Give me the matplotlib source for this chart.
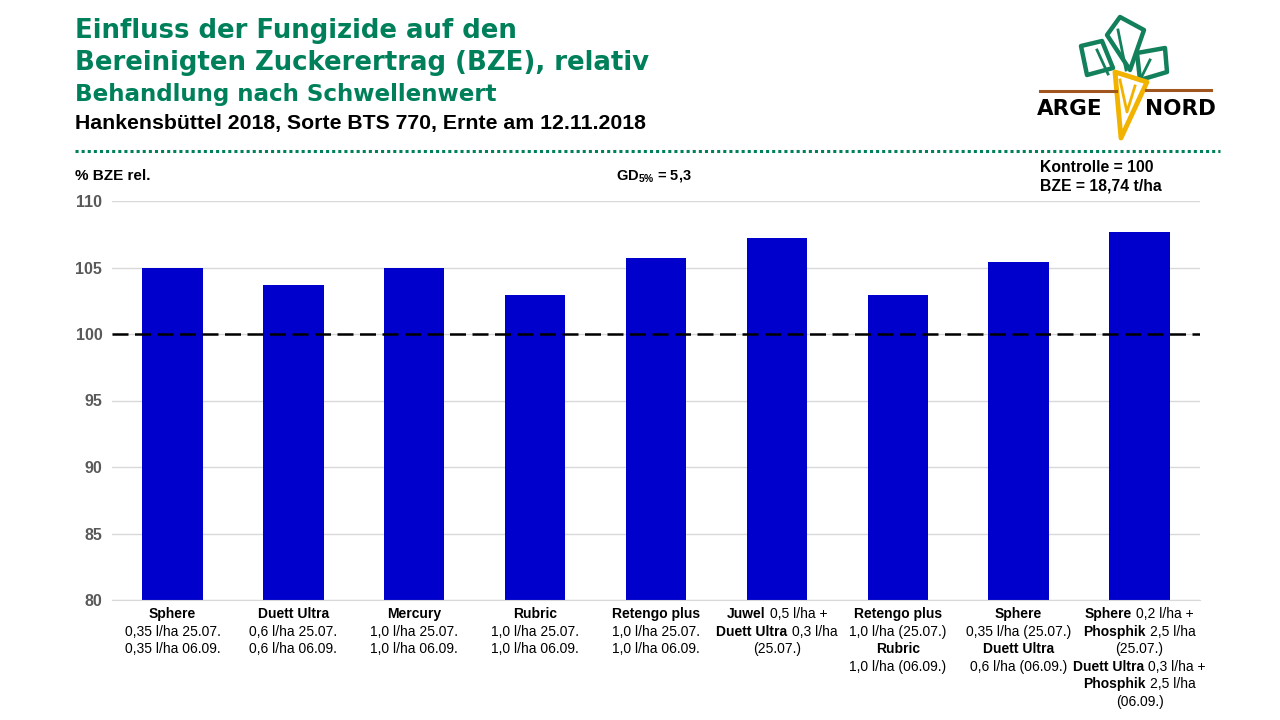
import matplotlib
matplotlib.use("Agg")
import matplotlib.pyplot as plt
from matplotlib.offsetbox import TextArea, HPacker, VPacker, AnnotationBbox
from matplotlib.patches import Polygon

plt.rcParams['font.family'] = ['Liberation Sans', 'DejaVu Sans']
plt.rcParams['mathtext.fontset'] = 'custom'
plt.rcParams['mathtext.rm'] = 'Liberation Sans'
plt.rcParams['mathtext.bf'] = 'Liberation Sans:bold'

# ---------------- data ----------------
values = [105.0, 103.65, 105.0, 102.9, 105.75, 107.25, 102.9, 105.45, 107.7]
control_value = 100
y_ticks = [80, 85, 90, 95, 100, 105, 110]

# label lines: list of (text, bold) segments per line
labels = [
    [[("Sphere", True)], [("0,35 l/ha 25.07.", False)], [("0,35 l/ha 06.09.", False)]],
    [[("Duett Ultra", True)], [("0,6 l/ha 25.07.", False)], [("0,6 l/ha 06.09.", False)]],
    [[("Mercury", True)], [("1,0 l/ha 25.07.", False)], [("1,0 l/ha 06.09.", False)]],
    [[("Rubric", True)], [("1,0 l/ha 25.07.", False)], [("1,0 l/ha 06.09.", False)]],
    [[("Retengo plus", True)], [("1,0 l/ha 25.07.", False)], [("1,0 l/ha 06.09.", False)]],
    [[("Juwel", True), ("0,5 l/ha +", False)],
     [("Duett Ultra", True), ("0,3 l/ha", False)],
     [("(25.07.)", False)]],
    [[("Retengo plus", True)], [("1,0 l/ha (25.07.)", False)],
     [("Rubric", True)], [("1,0 l/ha (06.09.)", False)]],
    [[("Sphere", True)], [("0,35 l/ha (25.07.)", False)],
     [("Duett Ultra", True)], [("0,6 l/ha (06.09.)", False)]],
    [[("Sphere", True), ("0,2 l/ha +", False)],
     [("Phosphik", True), ("2,5 l/ha", False)],
     [("(25.07.)", False)],
     [("Duett Ultra", True), ("0,3 l/ha +", False)],
     [("Phosphik", True), ("2,5 l/ha", False)],
     [("(06.09.)", False)]],
]

title1 = "Einfluss der Fungizide auf den"
title2 = "Bereinigten Zuckerertrag (BZE), relativ"
title3 = "Behandlung nach Schwellenwert"
title4 = "Hankensbüttel 2018, Sorte BTS 770, Ernte am 12.11.2018"
y_label = "% BZE rel."
gd_text = r"$\mathbf{GD_{5\%}}$ = 5,3"
ctrl1 = "Kontrolle = 100"
ctrl2 = "BZE = 18,74 t/ha"

GREEN = "#00805a"
BAR = "#0000cc"
GRAY = "#595959"

fig = plt.figure(figsize=(12.8, 7.2), dpi=100)

# overlay in pixel coordinates for slide decorations
ov = fig.add_axes([0, 0, 1, 1], zorder=0)
ov.set_xlim(0, 1280)
ov.set_ylim(720, 0)
ov.axis("off")

TF = ["DejaVu Sans"]
ov.text(75, 31, title1, color=GREEN, fontsize=18.7, fontweight="bold", va="center", family=TF)
ov.text(75, 63, title2, color=GREEN, fontsize=18.7, fontweight="bold", va="center", family=TF)
ov.text(75, 94, title3, color=GREEN, fontsize=16.6, fontweight="bold", va="center", family=TF)
ov.text(75, 123, title4, color="black", fontsize=15.3, fontweight="bold", va="center")
ov.plot([75, 1220], [151, 151], color=GREEN, lw=2.2, linestyle=(0, (1, 1)),
        solid_capstyle="butt", dash_capstyle="butt")
ov.text(75, 176, y_label, color="black", fontsize=11, fontweight="bold", va="center")
ov.text(654, 176, gd_text, color="black", fontsize=10.5, fontweight="bold",
        va="center", ha="center")
ov.text(1040, 168, ctrl1, color="black", fontsize=11.3, fontweight="bold", va="center")
ov.text(1040, 186, ctrl2, color="black", fontsize=11.3, fontweight="bold", va="center")

# logo (simplified)
LG = "#12805a"
leaves = ([(1081, 46), (1102, 41), (1113, 68), (1087, 75)],
          [(1107, 35), (1120, 17), (1144, 30), (1130, 70)],
          [(1137, 53), (1165, 48), (1167, 72), (1140, 80)])
for pts in leaves:
    ov.add_patch(Polygon(pts, closed=True, fill=False, edgecolor=LG, lw=3.2,
                         joinstyle="round"))
ov.plot([1097, 1108], [50, 74], color=LG, lw=2)
ov.plot([1118, 1126], [30, 70], color=LG, lw=2)
ov.plot([1150, 1142], [60, 76], color=LG, lw=2)
ov.plot([1040, 1116], [91, 91], color="#a0561e", lw=2.2)
ov.plot([1146, 1211], [90, 90], color="#a0561e", lw=2.2)
ov.add_patch(Polygon([(1115, 72), (1147, 82), (1121, 138)], closed=True,
                     fill=False, edgecolor="#f2b200", lw=3.5, joinstyle="round"))
ov.plot([1120, 1127, 1135], [80, 112, 86], color="#f2b200", lw=2)
ov.text(1070, 109, "ARGE", fontsize=15.5, fontweight="bold", ha="center", va="center",
        family=TF)
ov.text(1180, 109, "NORD", fontsize=15.5, fontweight="bold", ha="center", va="center",
        family=TF)

# main chart
ax = fig.add_axes([112 / 1280, 1 - 600 / 720, (1200 - 112) / 1280, (600 - 201) / 720], zorder=1)
ax.patch.set_alpha(0)
x = list(range(len(values)))
ax.bar(x, [v - 80 for v in values], bottom=80, width=0.5, color=BAR, zorder=2)
ax.set_xlim(-0.5, len(values) - 0.5)
ax.set_ylim(80, 110)
ax.set_yticks(y_ticks)
ax.set_yticklabels([str(t) for t in y_ticks], color=GRAY, fontsize=11.5, fontweight="bold")
ax.tick_params(axis="y", length=0, pad=7)
ax.tick_params(axis="x", length=0, labelbottom=False)
ax.grid(axis="y", color="#d9d9d9", lw=1, zorder=0)
for s in ("top", "right", "left"):
    ax.spines[s].set_visible(False)
ax.spines["bottom"].set_color("#d9d9d9")
ax.axhline(control_value, color="black", lw=1.8, dashes=(6.4, 2.6), zorder=3)

for i, lines in enumerate(labels):
    rows = []
    for line in lines:
        parts = [TextArea(t, textprops=dict(fontsize=10, fontweight="bold" if b else "normal",
                                            color="black"))
                 for t, b in line]
        rows.append(HPacker(children=parts, align="baseline", pad=0, sep=3))
    box = VPacker(children=rows, align="center", pad=0, sep=2.6)
    ab = AnnotationBbox(box, (i, 0), xycoords=("data", "axes fraction"),
                        xybox=(0, -5), boxcoords="offset points",
                        box_alignment=(0.5, 1), frameon=False, pad=0)
    ax.add_artist(ab)

fig.savefig("out.png", dpi=100)
